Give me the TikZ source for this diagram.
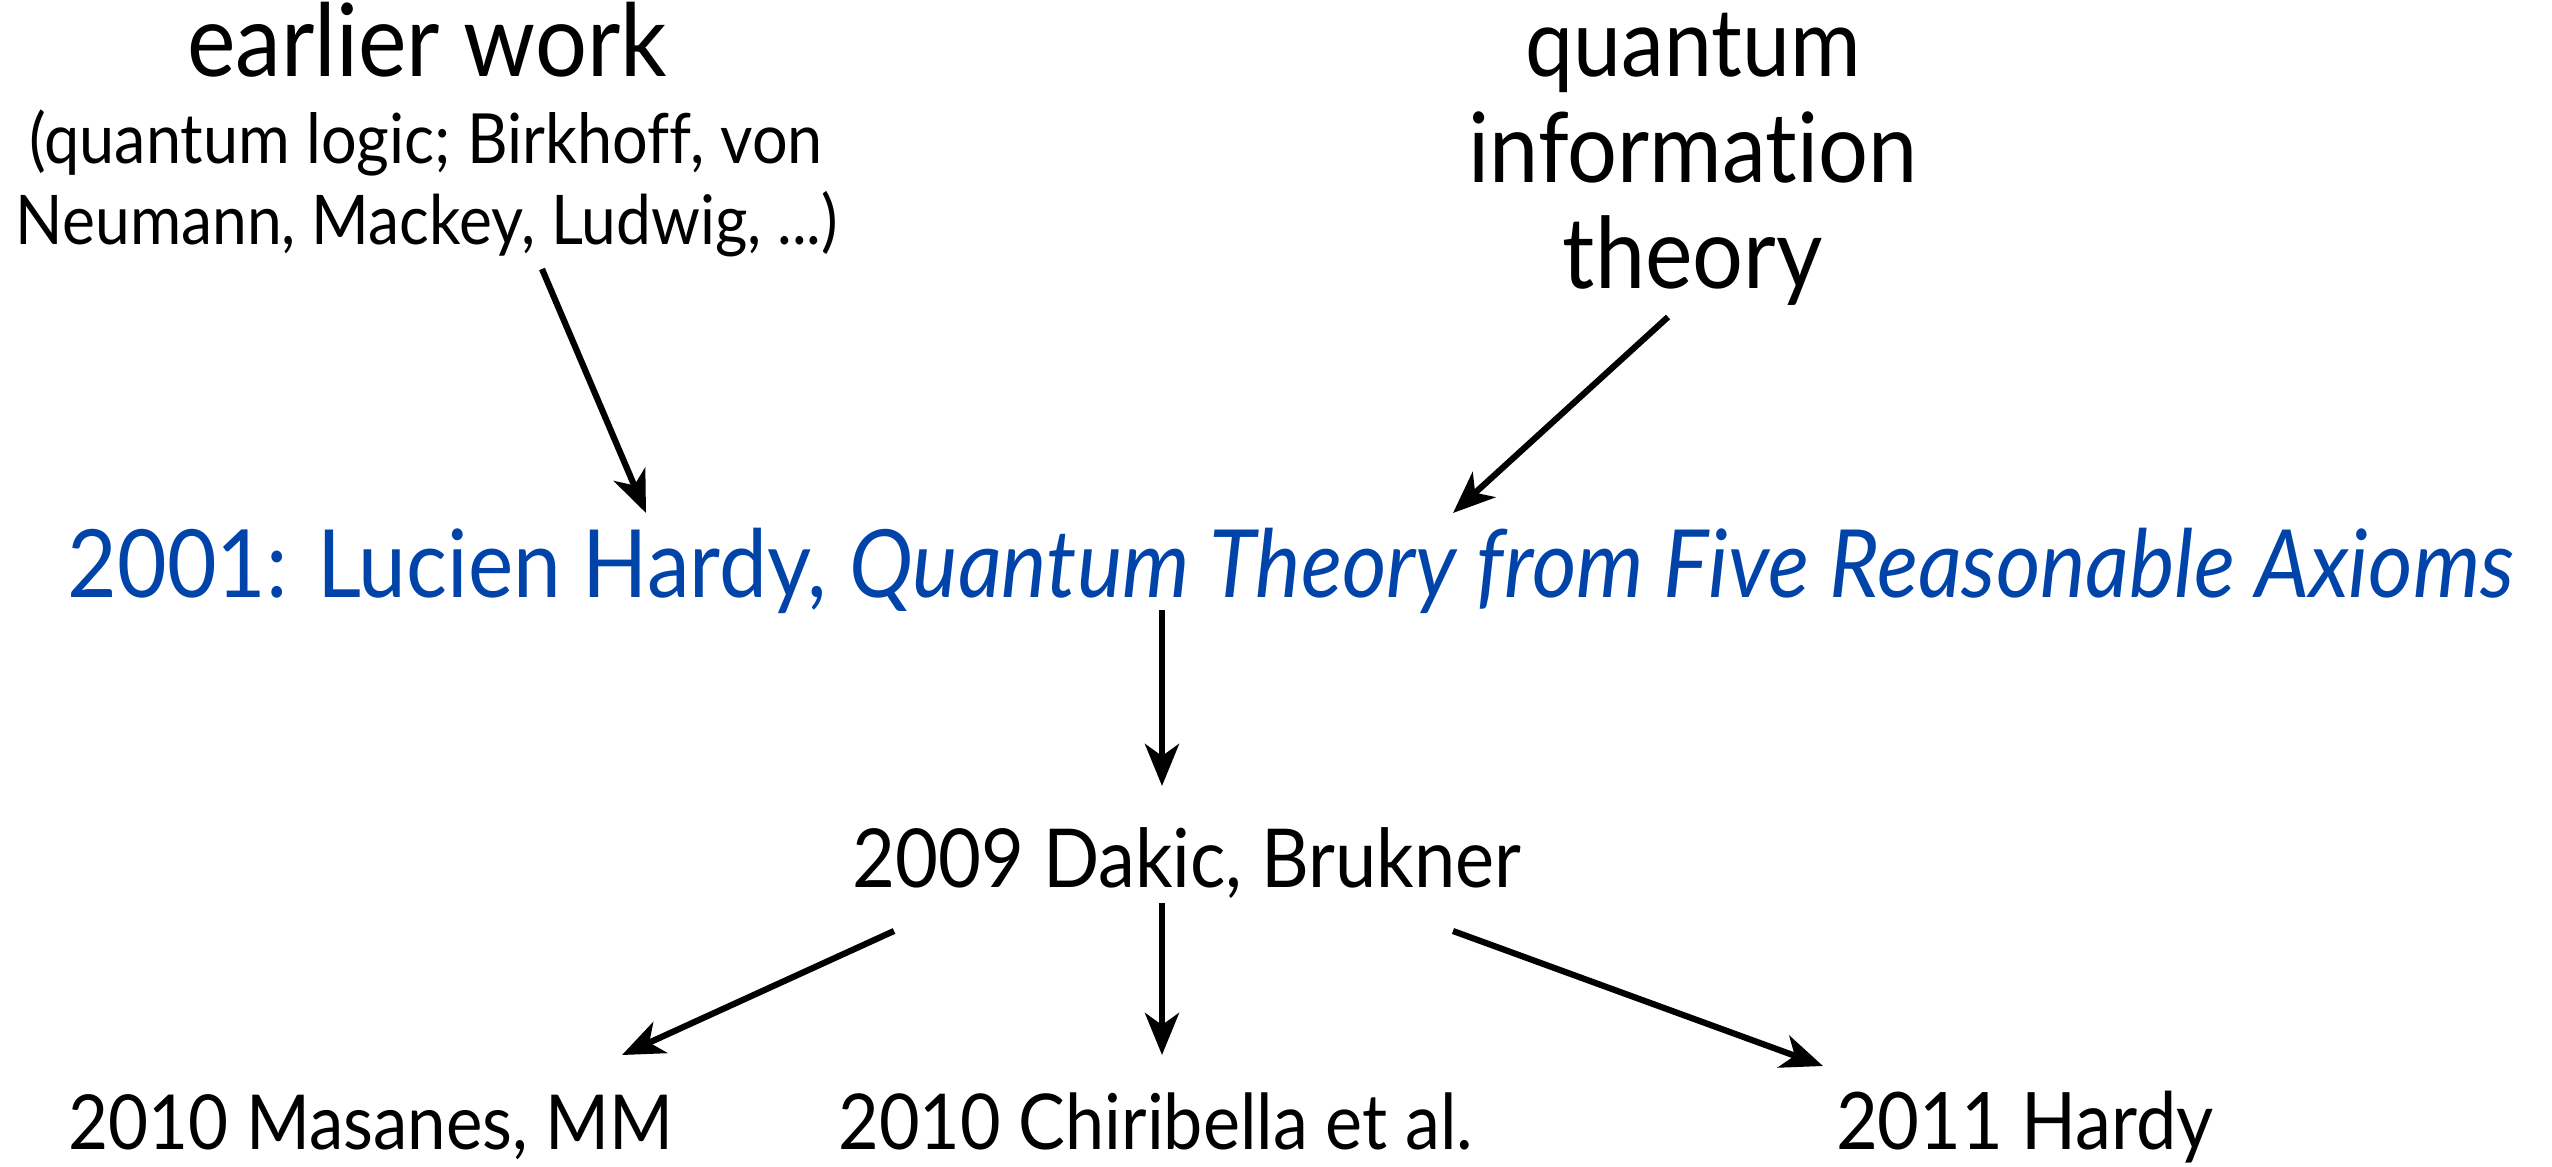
\documentclass[tikz,border=0pt]{standalone}
\usepackage{fontspec}
\setmainfont[Ligatures={NoCommon}]{Lato}
\usetikzlibrary{arrows.meta}
\definecolor{hblue}{RGB}{0,68,170}
\newcommand{\fitw}[2]{\resizebox{#1}{!}{\scalebox{1}[1.1]{#2}}}
\tikzset{
  lbl/.style={anchor=base, inner sep=0pt, font=\fontsize{20}{24}\selectfont},
  arr/.style={line width=1.55pt, -{Stealth[length=10.5pt,width=8.5pt,inset=3pt]}}
}
\begin{document}
\begin{tikzpicture}[x=0.25pt,y=-0.25pt]
\useasboundingbox (0,0) rectangle (2552,1167);
% top left
\node[lbl] (ew)  at (427,76.5) {\fitw{120pt}{earlier work}};
\node[lbl] (ew2) at (426,163) {\fitw{198.25pt}{(quantum logic; Birkhoff, von}};
\node[lbl] (ew3) at (427,244) {\fitw{205.5pt}{Neumann, Mackey, Ludwig, ...)}};
% top right
\node[lbl] (qi1) at (1693,76.5) {\fitw{83.75pt}{quantum}};
\node[lbl] (qi2) at (1693,182) {\fitw{112.25pt}{information}};
\node[lbl] (qi3) at (1693,288) {\fitw{65pt}{theory}};
% title
\node[lbl, text=hblue] (title) at (1291,597) {\fitw{611.5pt}{2001: Lucien Hardy, \textit{Quantum Theory from Five Reasonable Axioms}}};
% middle
\node[lbl] (dak) at (1187,887) {\fitw{167.25pt}{2009 Dakic, Brukner}};
% bottom
\node[lbl] (mas) at (371,1149) {\fitw{151.25pt}{2010 Masanes, MM}};
\node[lbl] (chi) at (1156,1149) {\fitw{158.75pt}{2010 Chiribella et al.}};
\node[lbl] (har) at (2025,1149) {\fitw{94.5pt}{2011 Hardy}};
% arrow end points
\coordinate (a1s) at (542,269);  \coordinate (a1e) at (646,513);
\coordinate (a2s) at (1668,317); \coordinate (a2e) at (1453,513);
\coordinate (a3s) at (1162,610); \coordinate (a3e) at (1162,786);
\coordinate (a4s) at (894,931);  \coordinate (a4e) at (622,1055);
\coordinate (a5s) at (1162,903); \coordinate (a5e) at (1162,1055);
\coordinate (a6s) at (1453,931); \coordinate (a6e) at (1823,1066);
\draw[arr] (a1s) -- (a1e);
\draw[arr] (a2s) -- (a2e);
\draw[arr] (a3s) -- (a3e);
\draw[arr] (a4s) -- (a4e);
\draw[arr] (a5s) -- (a5e);
\draw[arr] (a6s) -- (a6e);
\end{tikzpicture}
\end{document}
